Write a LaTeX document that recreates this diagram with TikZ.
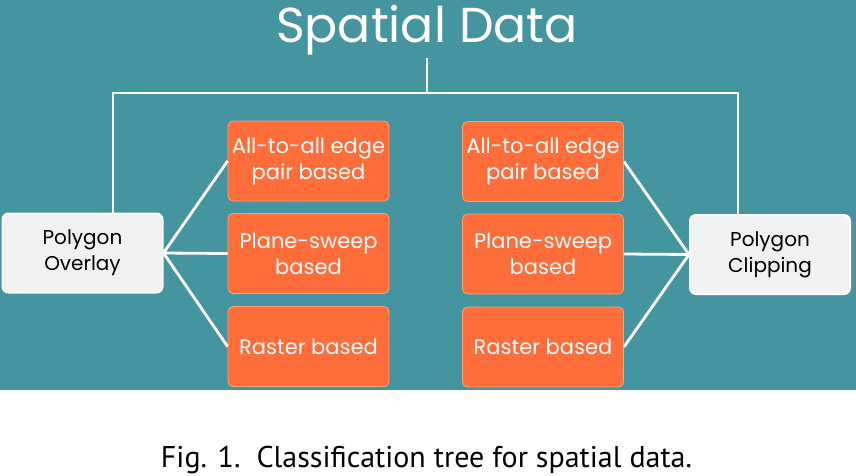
\documentclass[tikz,border=0pt]{standalone}
\usepackage{fontspec}
\setmainfont{Poppins}
\newfontfamily\capfont{PT Sans}
\usetikzlibrary{positioning}

\definecolor{teal1}{RGB}{69,149,160}
\definecolor{orange1}{RGB}{255,110,58}
\definecolor{orange2}{RGB}{255,160,120}
\definecolor{gray1}{RGB}{241,241,241}

\tikzset{
    method/.style={draw=orange2, line width=0.8pt, fill=orange1, rounded corners=5pt,
        minimum width=161pt, minimum height=80pt, align=center, text=white,
        font={\fontsize{21}{26}\selectfont}},
    task/.style={draw=white, line width=2pt, fill=gray1, rounded corners=6pt,
        minimum width=160pt, minimum height=79pt, align=center, text=black,
        font={\fontsize{20}{26}\selectfont}},
    link/.style={draw=white, line width=2.8pt}
}

\begin{document}
\begin{tikzpicture}[x=1pt, y=-1pt]
            \useasboundingbox (0,0) rectangle (856,475);
            \fill[teal1] (0,0) rectangle (856,390);
            % title
            \node[anchor=base, inner sep=3pt, text=white, font={\fontsize{49}{55}\selectfont}]
                (title) at (427,42) {Spatial Data};
            \coordinate (hub) at (427,93);
            % the two tasks
            \node[task] (overlay) at (82.5,253) {Polygon \\ Overlay};
            \node[task] (clipping) at (770,254.5) {Polygon \\ Clipping};
            % methods for overlay
            \node[method] (ovedge) at (308.5,161) {All-to-all edge \\ pair based};
            \node[method] (ovsweep) at (308.5,253.5) {Plane-sweep \\ based};
            \node[method] (ovraster) at (308.5,346.5) {Raster based};
            % methods for clipping
            \node[method] (cledge) at (543,161.5) {All-to-all edge \\ pair based};
            \node[method] (clsweep) at (543,254) {Plane-sweep \\ based};
            \node[method] (clraster) at (543,347) {Raster based};
            % tree
            \draw[link] (title.south) -- (hub);
            \draw[link]
                ([xshift=30.5pt]overlay.north) |- (hub) -| ([xshift=-32pt]clipping.north)
            ;
            \draw[link] (overlay.east) -- (ovedge.west);
            \draw[link] (overlay.east) -- (ovsweep.west);
            \draw[link] (overlay.east) -- (ovraster.west);
            \draw[link] (cledge.east) -- (clipping.west);
            \draw[link] (clsweep.east) -- (clipping.west);
            \draw[link] (clraster.east) -- (clipping.west);
            % caption
            \node[anchor=base, font={\capfont\fontsize{30}{34}\selectfont}]
                (caption) at (426.5,467) {Fig. 1.\ \ Classification tree for spatial data.};
        \end{tikzpicture}
\end{document}
